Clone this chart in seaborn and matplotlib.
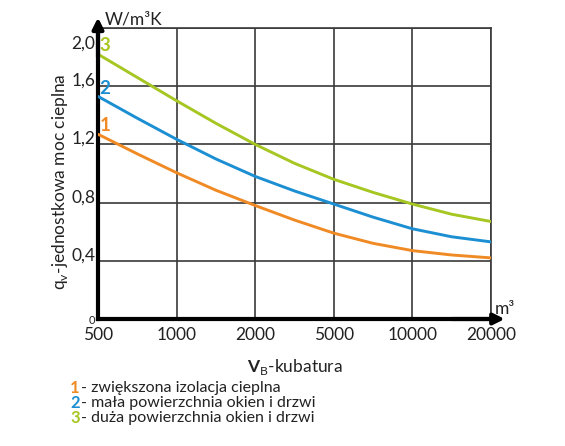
import numpy as np
import pandas as pd
import matplotlib
matplotlib.use("Agg")
import matplotlib.pyplot as plt
import matplotlib.transforms as mtransforms
import seaborn as sns

# ---- data ----
tick_volumes = [500, 1000, 2000, 5000, 10000, 20000]
tick_labels_x = ["500", "1000", "2000", "5000", "10000", "20000"]
volumes = [500, 707, 1000, 1414, 2000, 3162, 5000, 7071, 10000, 14142, 20000]
q1 = [1.27, 1.135, 1.005, 0.885, 0.78, 0.68, 0.59, 0.52, 0.47, 0.44, 0.42]
q2 = [1.53, 1.38, 1.235, 1.10, 0.98, 0.88, 0.79, 0.70, 0.62, 0.565, 0.53]
q3 = [1.82, 1.66, 1.50, 1.345, 1.20, 1.07, 0.96, 0.87, 0.79, 0.72, 0.67]
series_names = ["1", "2", "3"]
legend_texts = ["- zwiększona izolacja cieplna",
                "- mała powierzchnia okien i drzwi",
                "- duża powierzchnia okien i drzwi"]
y_ticks = [0, 0.4, 0.8, 1.2, 1.6, 2.0]
y_tick_labels = ["0", "0,4", "0,8", "1,2", "1,6", "2,0"]

colors = {"1": "#F08A24", "2": "#1B8FD2", "3": "#A6C622"}

df = pd.DataFrame({
    "V": volumes * 3,
    "q": q1 + q2 + q3,
    "s": ["1"] * len(volumes) + ["2"] * len(volumes) + ["3"] * len(volumes),
})

sns.set_style("white")
plt.rcParams["font.family"] = ["Lato", "DejaVu Sans"]
plt.rcParams["mathtext.fontset"] = "custom"
plt.rcParams["mathtext.rm"] = "Lato"
plt.rcParams["mathtext.bf"] = "Lato:bold"

fig = plt.figure(figsize=(5.65, 4.46), dpi=100)
ax = fig.add_axes([98 / 565, 1 - 319 / 446, (491 - 98) / 565, (319 - 28) / 446])

logt = np.log10(tick_volumes)
idx = np.arange(len(tick_volumes), dtype=float)

def fwd(x):
    x = np.asarray(x, dtype=float)
    lx = np.log10(np.where(x > 0, x, 1e-9))
    return np.interp(lx, logt, idx)

def inv(p):
    p = np.asarray(p, dtype=float)
    return 10 ** np.interp(p, idx, logt)

ax.set_xscale("function", functions=(fwd, inv))

sns.lineplot(data=df, x="V", y="q", hue="s", palette=colors, lw=2.1,
             legend=False, ax=ax, zorder=3)

ax.set_xlim(500, 20000)
ax.set_ylim(0, 2.0)
ax.set_xticks(tick_volumes)
ax.set_xticklabels(tick_labels_x, fontsize=12.5, color="#222222")
ax.xaxis.set_minor_locator(matplotlib.ticker.NullLocator())
ax.set_yticks(y_ticks)
ax.set_yticklabels(y_tick_labels, fontsize=12.5, color="#222222")

ax.grid(True, color="#3a3a3a", lw=1.2)
ax.set_axisbelow(True)
ax.tick_params(axis="x", length=0, pad=6)
ax.tick_params(axis="y", length=4, width=1.2, color="#222222", pad=-2, direction="out")

for sp in ["top", "right"]:
    ax.spines[sp].set_color("#3a3a3a")
    ax.spines[sp].set_linewidth(1.2)
for sp in ["left", "bottom"]:
    ax.spines[sp].set_color("black")
    ax.spines[sp].set_linewidth(3)

# per-label offsets of the y tick labels
offsets_pt = [0, 5, 5, 5, 5, -10]
for lab, dy in zip(ax.get_yticklabels(), offsets_pt):
    lab.set_transform(lab.get_transform() +
                      mtransforms.ScaledTranslation(0, dy / 72, fig.dpi_scale_trans))
ax.get_yticklabels()[0].set_fontsize(8)

# axis arrows
ax.annotate("", xy=(1.035, 0), xytext=(0.9, 0), xycoords="axes fraction",
            arrowprops=dict(arrowstyle="-|>", lw=3, color="black", mutation_scale=16,
                            shrinkA=0, shrinkB=0), annotation_clip=False)
ax.annotate("", xy=(0, 1.036), xytext=(0, 0.9), xycoords="axes fraction",
            arrowprops=dict(arrowstyle="-|>", lw=3, color="black", mutation_scale=16,
                            shrinkA=0, shrinkB=0), annotation_clip=False)

ax.text(0.018, 1.03, "W/m³K", transform=ax.transAxes, fontsize=12.5,
        ha="left", va="center", color="#222222")
ax.text(1.01, 0.035, "m³", transform=ax.transAxes, fontsize=12.5,
        ha="left", va="center", color="#222222")

# curve numbers
for name, vals in zip(series_names, [q1, q2, q3]):
    ax.annotate(name, xy=(volumes[0], vals[0]), xytext=(5, 6),
                textcoords="offset points", fontsize=13.5, fontweight="bold",
                color=colors[name], ha="center", va="center")

ax.set_xlabel(r"$\mathbf{V}_{\mathregular{B}}$-kubatura", fontsize=12.5,
              color="#222222", labelpad=10)
ax.set_ylabel(r"q$_{\mathregular{v}}$-jednostkowa moc cieplna", fontsize=12.5,
              color="#222222")
ax.yaxis.set_label_coords(-0.07, 0.47)

# legend lines
for i, (name, txt) in enumerate(zip(series_names, legend_texts)):
    yy = 1 - (388 + 15 * i) / 446
    fig.text(70 / 565, yy, name, color=colors[name], fontsize=12,
             fontweight="bold", va="center", ha="left")
    fig.text(81 / 565, yy, txt, color="#222222", fontsize=11.5,
             va="center", ha="left")

fig.savefig("out.png", dpi=100)
